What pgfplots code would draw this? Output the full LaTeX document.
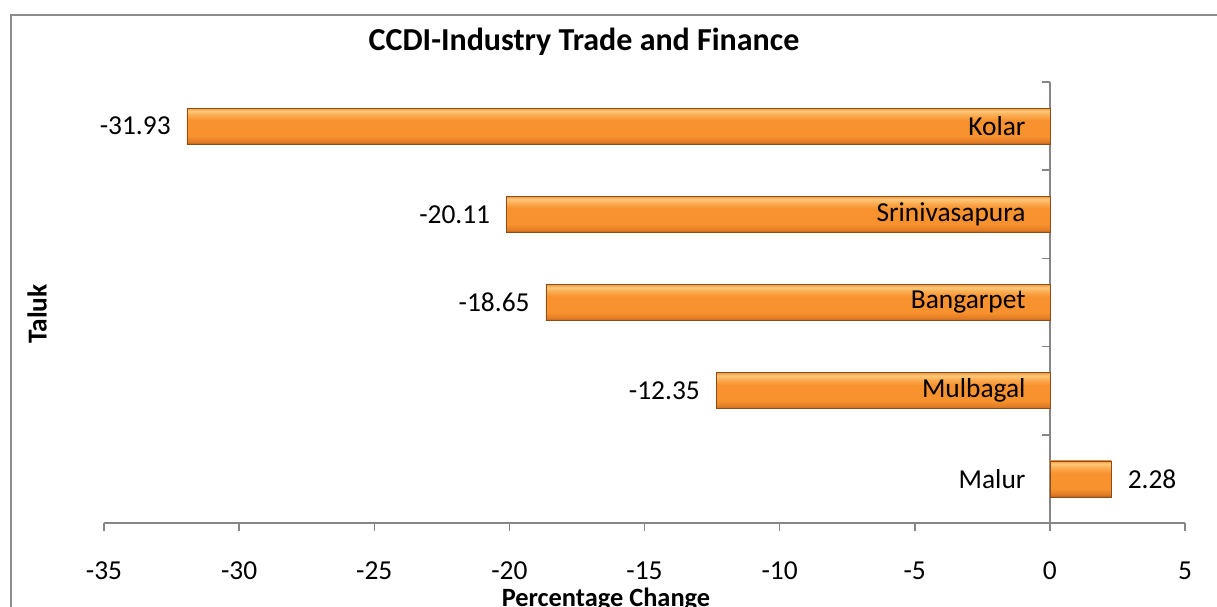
\documentclass[border=0pt]{standalone}
\usepackage{pgfplots}
\pgfplotsset{compat=1.18}
\usepackage{fontspec}
\setmainfont{Carlito}
\definecolor{axgray}{HTML}{868686}
\definecolor{frgray}{HTML}{8C8C8C}
\definecolor{bE}{HTML}{EE9A45}
\definecolor{bL2}{HTML}{FDC776}
\definecolor{bL}{HTML}{FBAA50}
\definecolor{bM}{HTML}{F7922F}
\definecolor{bM2}{HTML}{E07A24}
\definecolor{bD}{HTML}{B2601E}
\pgfdeclareverticalshading{bevel}{100bp}{color(0bp)=(bD); color(25bp)=(bD); color(28bp)=(bM2); color(36bp)=(bM); color(58bp)=(bM); color(65bp)=(bL); color(71bp)=(bL2); color(75bp)=(bE); color(100bp)=(bE)}
\pgfplotsset{
  barstyle/.style={xbar, bar width=18pt, shade, shading=bevel, draw=bD!80!black, line width=0.3pt,
    nodes near coords, point meta=explicit symbolic, nodes near coords align=center,
    every node near coord/.append style={font=\fontsize{13.7}{16}\selectfont, anchor=#1, inner xsep=8pt, text=black}},
}
\begin{document}
\begin{tikzpicture}
\useasboundingbox (0,0) rectangle (608.5pt,-303pt);
\draw[frgray, line width=1pt] (5.5pt,-330pt) -- (5.5pt,-7.5pt) -- (640pt,-7.5pt);
\begin{axis}[
  at={(52pt,-261.5pt)}, anchor=south west,
  scale only axis, width=540.5pt, height=220.5pt,
  xmin=-35, xmax=5, ymin=0.5, ymax=5.5,
  axis x line*=bottom, axis y line*=center,
  axis line style={axgray, line width=0.75pt},
  xtick={-35,-30,...,5}, ytick={0.5,1.5,...,5.5},
  yticklabels={},
  tick style={axgray, line width=0.75pt},
  major tick length=4pt,
  tick align=outside,
  /pgf/number format/assume math mode=true,
  xticklabel style={font=\fontsize{13.7}{16}\selectfont, yshift=-12pt},
  clip=false,
]
\addplot[barstyle=east] coordinates {(-31.93,5) [-31.93]};
\addplot[barstyle=east] coordinates {(-20.11,4) [-20.11]};
\addplot[barstyle=east] coordinates {(-18.65,3) [-18.65]};
\addplot[barstyle=east] coordinates {(-12.35,2) [-12.35]};
\addplot[barstyle=west] coordinates {(2.28,1) [2.28]};
\addplot[draw=none, mark=none,
  nodes near coords, point meta=explicit symbolic,
  nodes near coords align=center,
  every node near coord/.append style={font=\fontsize{13.7}{16}\selectfont, anchor=east, inner xsep=12pt, text=black}]
  coordinates {(0,5) [Kolar] (0,4) [Srinivasapura] (0,3) [Bangarpet] (0,2) [Mulbagal] (0,1) [Malur]};
\end{axis}
\node[font=\fontsize{16}{19}\selectfont\bfseries, anchor=base] at (292pt,-25pt) {CCDI-Industry Trade and Finance};
\node[font=\fontsize{13.7}{16}\selectfont\bfseries, rotate=90] at (18.5pt,-157pt) {Taluk};
\node[font=\fontsize{13.2}{16}\selectfont\bfseries, anchor=base] at (303pt,-303pt) {Percentage Change};
\end{tikzpicture}
\end{document}
